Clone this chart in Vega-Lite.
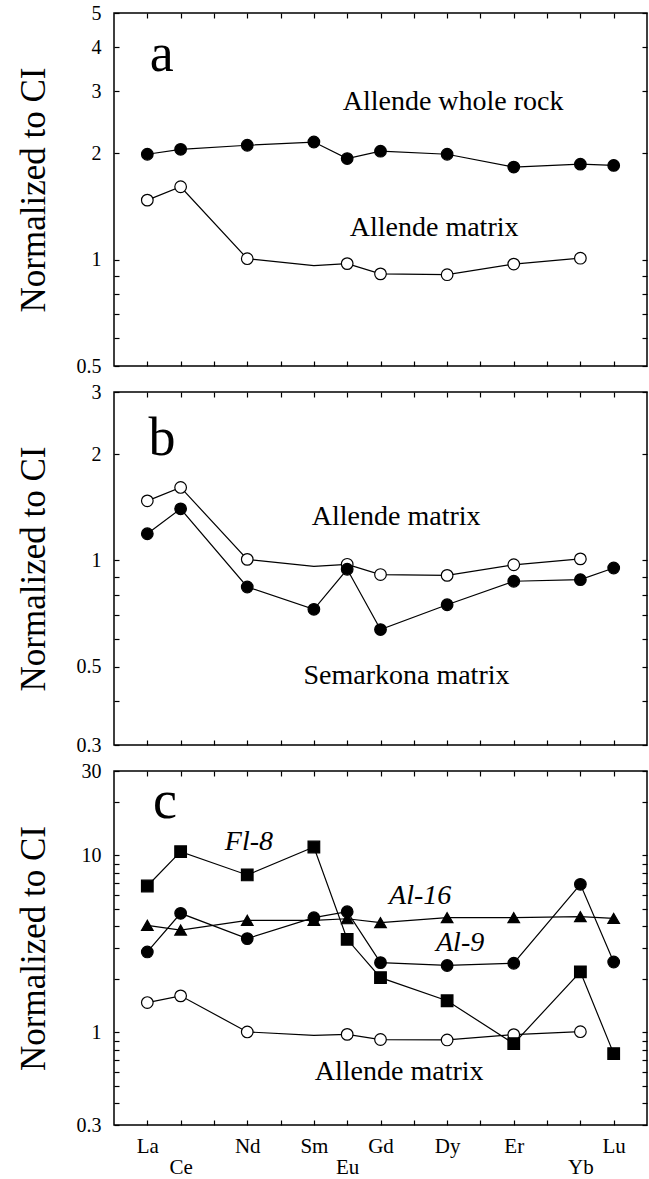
{
  "$schema": "https://vega.github.io/schema/vega-lite/v6.json",
  "padding": {"left": 15, "top": 2, "right": 1, "bottom": 0},
  "background": "white",
  "config": {
    "font": "Liberation Serif",
    "view": {"stroke": "black", "strokeWidth": 1.5},
    "axis": {"labelFont": "Liberation Serif", "titleFont": "Liberation Serif", "labelColor": "black", "titleColor": "black", "tickColor": "black", "tickWidth": 1.2, "grid": false, "domain": false, "labelOverlap": false, "labelFlush": false}
  },
  "datasets": {
    "ree": [
      {"series": "Allende whole rock", "element": "La", "Z": 57, "value": 1.99, "measured": true},
      {"series": "Allende whole rock", "element": "Ce", "Z": 58, "value": 2.055, "measured": true},
      {"series": "Allende whole rock", "element": "Nd", "Z": 60, "value": 2.11, "measured": true},
      {"series": "Allende whole rock", "element": "Sm", "Z": 62, "value": 2.155, "measured": true},
      {"series": "Allende whole rock", "element": "Eu", "Z": 63, "value": 1.935, "measured": true},
      {"series": "Allende whole rock", "element": "Gd", "Z": 64, "value": 2.03, "measured": true},
      {"series": "Allende whole rock", "element": "Dy", "Z": 66, "value": 1.99, "measured": true},
      {"series": "Allende whole rock", "element": "Er", "Z": 68, "value": 1.83, "measured": true},
      {"series": "Allende whole rock", "element": "Yb", "Z": 70, "value": 1.865, "measured": true},
      {"series": "Allende whole rock", "element": "Lu", "Z": 71, "value": 1.85, "measured": true},
      {"series": "Allende matrix", "element": "La", "Z": 57, "value": 1.475, "measured": true},
      {"series": "Allende matrix", "element": "Ce", "Z": 58, "value": 1.61, "measured": true},
      {"series": "Allende matrix", "element": "Nd", "Z": 60, "value": 1.007, "measured": true},
      {"series": "Allende matrix", "element": "Sm", "Z": 62, "value": 0.962, "measured": false},
      {"series": "Allende matrix", "element": "Eu", "Z": 63, "value": 0.975, "measured": true},
      {"series": "Allende matrix", "element": "Gd", "Z": 64, "value": 0.912, "measured": true},
      {"series": "Allende matrix", "element": "Dy", "Z": 66, "value": 0.907, "measured": true},
      {"series": "Allende matrix", "element": "Er", "Z": 68, "value": 0.972, "measured": true},
      {"series": "Allende matrix", "element": "Yb", "Z": 70, "value": 1.01, "measured": true},
      {"series": "Semarkona matrix", "element": "La", "Z": 57, "value": 1.19, "measured": true},
      {"series": "Semarkona matrix", "element": "Ce", "Z": 58, "value": 1.40, "measured": true},
      {"series": "Semarkona matrix", "element": "Nd", "Z": 60, "value": 0.841, "measured": true},
      {"series": "Semarkona matrix", "element": "Sm", "Z": 62, "value": 0.727, "measured": true},
      {"series": "Semarkona matrix", "element": "Eu", "Z": 63, "value": 0.944, "measured": true},
      {"series": "Semarkona matrix", "element": "Gd", "Z": 64, "value": 0.637, "measured": true},
      {"series": "Semarkona matrix", "element": "Dy", "Z": 66, "value": 0.749, "measured": true},
      {"series": "Semarkona matrix", "element": "Er", "Z": 68, "value": 0.873, "measured": true},
      {"series": "Semarkona matrix", "element": "Yb", "Z": 70, "value": 0.882, "measured": true},
      {"series": "Semarkona matrix", "element": "Lu", "Z": 71, "value": 0.952, "measured": true},
      {"series": "Fl-8", "element": "La", "Z": 57, "value": 6.72, "measured": true},
      {"series": "Fl-8", "element": "Ce", "Z": 58, "value": 10.5, "measured": true},
      {"series": "Fl-8", "element": "Nd", "Z": 60, "value": 7.76, "measured": true},
      {"series": "Fl-8", "element": "Sm", "Z": 62, "value": 11.16, "measured": true},
      {"series": "Fl-8", "element": "Eu", "Z": 63, "value": 3.36, "measured": true},
      {"series": "Fl-8", "element": "Gd", "Z": 64, "value": 2.04, "measured": true},
      {"series": "Fl-8", "element": "Dy", "Z": 66, "value": 1.51, "measured": true},
      {"series": "Fl-8", "element": "Er", "Z": 68, "value": 0.864, "measured": true},
      {"series": "Fl-8", "element": "Yb", "Z": 70, "value": 2.2, "measured": true},
      {"series": "Fl-8", "element": "Lu", "Z": 71, "value": 0.759, "measured": true},
      {"series": "Al-16", "element": "La", "Z": 57, "value": 4.03, "measured": true},
      {"series": "Al-16", "element": "Ce", "Z": 58, "value": 3.79, "measured": true},
      {"series": "Al-16", "element": "Nd", "Z": 60, "value": 4.3, "measured": true},
      {"series": "Al-16", "element": "Sm", "Z": 62, "value": 4.3, "measured": true},
      {"series": "Al-16", "element": "Eu", "Z": 63, "value": 4.39, "measured": true},
      {"series": "Al-16", "element": "Gd", "Z": 64, "value": 4.17, "measured": true},
      {"series": "Al-16", "element": "Dy", "Z": 66, "value": 4.45, "measured": true},
      {"series": "Al-16", "element": "Er", "Z": 68, "value": 4.45, "measured": true},
      {"series": "Al-16", "element": "Yb", "Z": 70, "value": 4.51, "measured": true},
      {"series": "Al-16", "element": "Lu", "Z": 71, "value": 4.41, "measured": true},
      {"series": "Al-9", "element": "La", "Z": 57, "value": 2.85, "measured": true},
      {"series": "Al-9", "element": "Ce", "Z": 58, "value": 4.71, "measured": true},
      {"series": "Al-9", "element": "Nd", "Z": 60, "value": 3.39, "measured": true},
      {"series": "Al-9", "element": "Sm", "Z": 62, "value": 4.45, "measured": true},
      {"series": "Al-9", "element": "Eu", "Z": 63, "value": 4.81, "measured": true},
      {"series": "Al-9", "element": "Gd", "Z": 64, "value": 2.48, "measured": true},
      {"series": "Al-9", "element": "Dy", "Z": 66, "value": 2.39, "measured": true},
      {"series": "Al-9", "element": "Er", "Z": 68, "value": 2.46, "measured": true},
      {"series": "Al-9", "element": "Yb", "Z": 70, "value": 6.87, "measured": true},
      {"series": "Al-9", "element": "Lu", "Z": 71, "value": 2.5, "measured": true}
    ],
    "notes": [
      {"panel": "a", "kind": "letter", "text": "a", "Z": 57.43, "value": 3.42},
      {"panel": "a", "kind": "meteorite", "text": "Allende whole rock", "Z": 66.18, "value": 2.65},
      {"panel": "a", "kind": "meteorite", "text": "Allende matrix", "Z": 65.61, "value": 1.167},
      {"panel": "b", "kind": "letter", "text": "b", "Z": 57.44, "value": 1.99},
      {"panel": "b", "kind": "meteorite", "text": "Allende matrix", "Z": 64.47, "value": 1.26},
      {"panel": "b", "kind": "meteorite", "text": "Semarkona matrix", "Z": 64.78, "value": 0.447},
      {"panel": "c", "kind": "letter", "text": "c", "Z": 57.53, "value": 16.3},
      {"panel": "c", "kind": "inclusion", "text": "Fl-8", "Z": 60.05, "value": 10.69},
      {"panel": "c", "kind": "inclusion", "text": "Al-16", "Z": 65.19, "value": 5.34},
      {"panel": "c", "kind": "inclusion", "text": "Al-9", "Z": 66.39, "value": 2.89},
      {"panel": "c", "kind": "meteorite", "text": "Allende matrix", "Z": 64.56, "value": 0.537}
    ]
  },
  "vconcat": [
    {
      "width": 533, "height": 353,
      "layer": [
        {
          "data": {"name": "ree"},
          "transform": [{"filter": "datum.series == 'Allende whole rock' || datum.series == 'Allende matrix'"}],
          "mark": {"type": "line", "color": "black", "strokeWidth": 1.2},
          "encoding": {
            "x": {"field": "Z", "type": "quantitative", "scale": {"domain": [56, 72], "nice": false, "zero": false},
                  "axis": {"orient": "bottom", "values": [57,58,59,60,61,62,63,64,65,66,67,68,69,70,71], "labels": false, "tickSize": -5, "title": null}},
            "y": {"field": "value", "type": "quantitative", "scale": {"type": "log", "domain": [0.5, 5], "nice": false},
                  "axis": {"orient": "left", "values": [0.5,0.6,0.7,0.8,0.9,1,2,3,4,5], "format": "~g", "labelExpr": "indexof([0.5,1,2,3,4,5], datum.value) >= 0 ? datum.label : ''", "tickSize": -5, "labelPadding": 18, "labelFontSize": 20, "title": "Normalized to CI", "titleFontSize": 35, "titleFontWeight": "normal", "titlePadding": 25}},
            "detail": {"field": "series"},
            "order": {"field": "Z"}
          }
        },
        {
          "data": {"name": "ree"},
          "transform": [{"filter": "(datum.series == 'Allende whole rock' || datum.series == 'Allende matrix') && datum.measured"}],
          "mark": {"type": "point", "filled": true, "stroke": "black", "strokeWidth": 1.2, "opacity": 1},
          "encoding": {
            "x": {"field": "Z", "type": "quantitative", "scale": {"domain": [56, 72], "nice": false, "zero": false},
                  "axis": {"orient": "top", "values": [57,58,59,60,61,62,63,64,65,66,67,68,69,70,71], "labels": false, "tickSize": -5, "title": null}},
            "y": {"field": "value", "type": "quantitative", "scale": {"type": "log", "domain": [0.5, 5], "nice": false},
                  "axis": {"orient": "right", "values": [0.5,0.6,0.7,0.8,0.9,1,2,3,4,5], "labels": false, "tickSize": -5, "title": null}},
            "shape": {"field": "series", "type": "nominal", "legend": null, "scale": {"domain": ["Allende whole rock", "Allende matrix", "Semarkona matrix", "Fl-8", "Al-16", "Al-9"], "range": ["circle", "circle", "circle", "square", "triangle-up", "circle"]}},
            "fill": {"field": "series", "type": "nominal", "legend": null, "scale": {"domain": ["Allende whole rock", "Allende matrix", "Semarkona matrix", "Fl-8", "Al-16", "Al-9"], "range": ["black", "white", "black", "black", "black", "black"]}},
            "size": {"field": "series", "type": "nominal", "legend": null, "scale": {"domain": ["Allende whole rock", "Allende matrix", "Semarkona matrix", "Fl-8", "Al-16", "Al-9"], "range": [135, 135, 135, 185, 125, 135]}}
          }
        },
        {
          "data": {"name": "notes"},
          "transform": [{"filter": "datum.panel == 'a' && datum.kind == 'letter'"}],
          "mark": {"type": "text", "font": "Liberation Serif", "fontSize": 54, "align": "center", "baseline": "alphabetic", "color": "black"},
          "encoding": {
            "x": {"field": "Z", "type": "quantitative", "axis": null, "scale": {"domain": [56, 72], "nice": false, "zero": false}},
            "y": {"field": "value", "type": "quantitative", "axis": null, "scale": {"type": "log", "domain": [0.5, 5], "nice": false}},
            "text": {"field": "text"}
          }
        },
        {
          "data": {"name": "notes"},
          "transform": [{"filter": "datum.panel == 'a' && datum.kind == 'meteorite'"}],
          "mark": {"type": "text", "font": "Liberation Serif", "fontSize": 28, "align": "center", "baseline": "alphabetic", "color": "black"},
          "encoding": {
            "x": {"field": "Z", "type": "quantitative", "axis": null, "scale": {"domain": [56, 72], "nice": false, "zero": false}},
            "y": {"field": "value", "type": "quantitative", "axis": null, "scale": {"type": "log", "domain": [0.5, 5], "nice": false}},
            "text": {"field": "text"}
          }
        }
      ]
    },
    {
      "width": 533, "height": 353,
      "layer": [
        {
          "data": {"name": "ree"},
          "transform": [{"filter": "datum.series == 'Semarkona matrix' || datum.series == 'Allende matrix'"}],
          "mark": {"type": "line", "color": "black", "strokeWidth": 1.2},
          "encoding": {
            "x": {"field": "Z", "type": "quantitative", "scale": {"domain": [56, 72], "nice": false, "zero": false},
                  "axis": {"orient": "bottom", "values": [57,58,59,60,61,62,63,64,65,66,67,68,69,70,71], "labels": false, "tickSize": -5, "title": null}},
            "y": {"field": "value", "type": "quantitative", "scale": {"type": "log", "domain": [0.3, 3], "nice": false},
                  "axis": {"orient": "left", "values": [0.3,0.4,0.5,0.6,0.7,0.8,0.9,1,2,3], "format": "~g", "labelExpr": "indexof([0.3,0.5,1,2,3], datum.value) >= 0 ? datum.label : ''", "tickSize": -5, "labelPadding": 18, "labelFontSize": 20, "title": "Normalized to CI", "titleFontSize": 35, "titleFontWeight": "normal", "titlePadding": 25}},
            "detail": {"field": "series"},
            "order": {"field": "Z"}
          }
        },
        {
          "data": {"name": "ree"},
          "transform": [{"filter": "(datum.series == 'Semarkona matrix' || datum.series == 'Allende matrix') && datum.measured"}],
          "mark": {"type": "point", "filled": true, "stroke": "black", "strokeWidth": 1.2, "opacity": 1},
          "encoding": {
            "x": {"field": "Z", "type": "quantitative", "scale": {"domain": [56, 72], "nice": false, "zero": false},
                  "axis": {"orient": "top", "values": [57,58,59,60,61,62,63,64,65,66,67,68,69,70,71], "labels": false, "tickSize": -5, "title": null}},
            "y": {"field": "value", "type": "quantitative", "scale": {"type": "log", "domain": [0.3, 3], "nice": false},
                  "axis": {"orient": "right", "values": [0.3,0.4,0.5,0.6,0.7,0.8,0.9,1,2,3], "labels": false, "tickSize": -5, "title": null}},
            "shape": {"field": "series", "type": "nominal", "legend": null, "scale": {"domain": ["Allende whole rock", "Allende matrix", "Semarkona matrix", "Fl-8", "Al-16", "Al-9"], "range": ["circle", "circle", "circle", "square", "triangle-up", "circle"]}},
            "fill": {"field": "series", "type": "nominal", "legend": null, "scale": {"domain": ["Allende whole rock", "Allende matrix", "Semarkona matrix", "Fl-8", "Al-16", "Al-9"], "range": ["black", "white", "black", "black", "black", "black"]}},
            "size": {"field": "series", "type": "nominal", "legend": null, "scale": {"domain": ["Allende whole rock", "Allende matrix", "Semarkona matrix", "Fl-8", "Al-16", "Al-9"], "range": [135, 135, 135, 185, 125, 135]}}
          }
        },
        {
          "data": {"name": "notes"},
          "transform": [{"filter": "datum.panel == 'b' && datum.kind == 'letter'"}],
          "mark": {"type": "text", "font": "Liberation Serif", "fontSize": 54, "align": "center", "baseline": "alphabetic", "color": "black"},
          "encoding": {
            "x": {"field": "Z", "type": "quantitative", "axis": null, "scale": {"domain": [56, 72], "nice": false, "zero": false}},
            "y": {"field": "value", "type": "quantitative", "axis": null, "scale": {"type": "log", "domain": [0.3, 3], "nice": false}},
            "text": {"field": "text"}
          }
        },
        {
          "data": {"name": "notes"},
          "transform": [{"filter": "datum.panel == 'b' && datum.kind == 'meteorite'"}],
          "mark": {"type": "text", "font": "Liberation Serif", "fontSize": 28, "align": "center", "baseline": "alphabetic", "color": "black"},
          "encoding": {
            "x": {"field": "Z", "type": "quantitative", "axis": null, "scale": {"domain": [56, 72], "nice": false, "zero": false}},
            "y": {"field": "value", "type": "quantitative", "axis": null, "scale": {"type": "log", "domain": [0.3, 3], "nice": false}},
            "text": {"field": "text"}
          }
        }
      ]
    },
    {
      "width": 533, "height": 354,
      "layer": [
        {
          "data": {"name": "ree"},
          "transform": [{"filter": "datum.series == 'Fl-8' || datum.series == 'Al-16' || datum.series == 'Al-9' || datum.series == 'Allende matrix'"}],
          "mark": {"type": "line", "color": "black", "strokeWidth": 1.2},
          "encoding": {
            "x": {"field": "Z", "type": "quantitative", "scale": {"domain": [56, 72], "nice": false, "zero": false},
                  "axis": {"orient": "bottom", "values": [57,58,59,60,61,62,63,64,65,66,67,68,69,70,71], "tickSize": -5, "labelPadding": 15, "labelFontSize": 21, "labelBaseline": "top", "labelLineHeight": 21, "labelExpr": "indexof([58,63,70], datum.value) >= 0 ? ['', ['La','Ce','','Nd','','Sm','Eu','Gd','','Dy','','Er','','Yb','Lu'][datum.value - 57]] : ['La','Ce','','Nd','','Sm','Eu','Gd','','Dy','','Er','','Yb','Lu'][datum.value - 57]", "title": null}},
            "y": {"field": "value", "type": "quantitative", "scale": {"type": "log", "domain": [0.3, 30], "nice": false},
                  "axis": {"orient": "left", "values": [0.3,0.4,0.5,0.6,0.7,0.8,0.9,1,2,3,4,5,6,7,8,9,10,20,30], "format": "~g", "labelExpr": "indexof([0.3,1,10,30], datum.value) >= 0 ? datum.label : ''", "tickSize": -5, "labelPadding": 18, "labelFontSize": 20, "title": "Normalized to CI", "titleFontSize": 35, "titleFontWeight": "normal", "titlePadding": 25}},
            "detail": {"field": "series"},
            "order": {"field": "Z"}
          }
        },
        {
          "data": {"name": "ree"},
          "transform": [{"filter": "(datum.series == 'Fl-8' || datum.series == 'Al-16' || datum.series == 'Al-9' || datum.series == 'Allende matrix') && datum.measured"}],
          "mark": {"type": "point", "filled": true, "stroke": "black", "strokeWidth": 1.2, "opacity": 1},
          "encoding": {
            "x": {"field": "Z", "type": "quantitative", "scale": {"domain": [56, 72], "nice": false, "zero": false},
                  "axis": {"orient": "top", "values": [57,58,59,60,61,62,63,64,65,66,67,68,69,70,71], "labels": false, "tickSize": -5, "title": null}},
            "y": {"field": "value", "type": "quantitative", "scale": {"type": "log", "domain": [0.3, 30], "nice": false},
                  "axis": {"orient": "right", "values": [0.3,0.4,0.5,0.6,0.7,0.8,0.9,1,2,3,4,5,6,7,8,9,10,20,30], "labels": false, "tickSize": -5, "title": null}},
            "shape": {"field": "series", "type": "nominal", "legend": null, "scale": {"domain": ["Allende whole rock", "Allende matrix", "Semarkona matrix", "Fl-8", "Al-16", "Al-9"], "range": ["circle", "circle", "circle", "square", "triangle-up", "circle"]}},
            "fill": {"field": "series", "type": "nominal", "legend": null, "scale": {"domain": ["Allende whole rock", "Allende matrix", "Semarkona matrix", "Fl-8", "Al-16", "Al-9"], "range": ["black", "white", "black", "black", "black", "black"]}},
            "size": {"field": "series", "type": "nominal", "legend": null, "scale": {"domain": ["Allende whole rock", "Allende matrix", "Semarkona matrix", "Fl-8", "Al-16", "Al-9"], "range": [135, 135, 135, 185, 125, 135]}}
          }
        },
        {
          "data": {"name": "notes"},
          "transform": [{"filter": "datum.panel == 'c' && datum.kind == 'letter'"}],
          "mark": {"type": "text", "font": "Liberation Serif", "fontSize": 54, "align": "center", "baseline": "alphabetic", "color": "black"},
          "encoding": {
            "x": {"field": "Z", "type": "quantitative", "axis": null, "scale": {"domain": [56, 72], "nice": false, "zero": false}},
            "y": {"field": "value", "type": "quantitative", "axis": null, "scale": {"type": "log", "domain": [0.3, 30], "nice": false}},
            "text": {"field": "text"}
          }
        },
        {
          "data": {"name": "notes"},
          "transform": [{"filter": "datum.panel == 'c' && datum.kind == 'meteorite'"}],
          "mark": {"type": "text", "font": "Liberation Serif", "fontSize": 28, "align": "center", "baseline": "alphabetic", "color": "black"},
          "encoding": {
            "x": {"field": "Z", "type": "quantitative", "axis": null, "scale": {"domain": [56, 72], "nice": false, "zero": false}},
            "y": {"field": "value", "type": "quantitative", "axis": null, "scale": {"type": "log", "domain": [0.3, 30], "nice": false}},
            "text": {"field": "text"}
          }
        },
        {
          "data": {"name": "notes"},
          "transform": [{"filter": "datum.panel == 'c' && datum.kind == 'inclusion'"}],
          "mark": {"type": "text", "font": "Liberation Serif", "fontSize": 28, "fontStyle": "italic", "align": "center", "baseline": "alphabetic", "color": "black"},
          "encoding": {
            "x": {"field": "Z", "type": "quantitative", "axis": null, "scale": {"domain": [56, 72], "nice": false, "zero": false}},
            "y": {"field": "value", "type": "quantitative", "axis": null, "scale": {"type": "log", "domain": [0.3, 30], "nice": false}},
            "text": {"field": "text"}
          }
        }
      ]
    }
  ],
  "spacing": 26,
  "bounds": "flush"
}
